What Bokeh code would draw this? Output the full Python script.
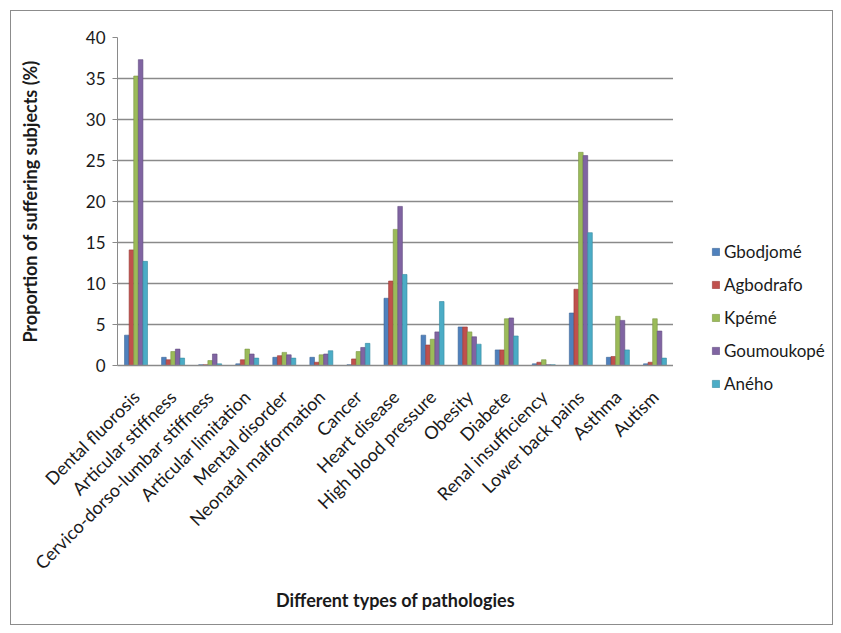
import math
from bokeh.plotting import figure
from bokeh.layouts import row, column
from bokeh.models import ColumnDataSource, FactorRange, Range1d, Legend, LegendItem, SingleIntervalTicker
from bokeh.transform import dodge
from bokeh.embed import file_html
from bokeh.resources import INLINE

# Proportion of suffering subjects (%) per pathology and locality
pathologies = [
    "Dental fluorosis", "Articular stiffness", "Cervico-dorso-lumbar stiffness",
    "Articular limitation", "Mental disorder", "Neonatal malformation", "Cancer",
    "Heart disease", "High blood pressure", "Obesity", "Diabete",
    "Renal insufficiency", "Lower back pains", "Asthma", "Autism",
]
localities = ["Gbodjomé", "Agbodrafo", "Kpémé", "Goumoukopé", "Aného"]

gbodjome   = [3.7, 1.0, 0.1, 0.2, 1.0, 1.0, 0.1, 8.2, 3.7, 4.7, 1.9, 0.2, 6.4, 1.0, 0.2]
agbodrafo  = [14.1, 0.7, 0.1, 0.7, 1.2, 0.4, 0.8, 10.3, 2.5, 4.7, 1.9, 0.4, 9.3, 1.1, 0.4]
kpeme      = [35.3, 1.7, 0.6, 2.0, 1.6, 1.3, 1.7, 16.6, 3.2, 4.1, 5.7, 0.7, 26.0, 6.0, 5.7]
goumoukope = [37.3, 2.0, 1.4, 1.4, 1.3, 1.4, 2.2, 19.4, 4.1, 3.5, 5.8, 0.1, 25.6, 5.5, 4.2]
aneho      = [12.7, 0.9, 0.2, 0.9, 0.9, 1.8, 2.7, 11.1, 7.8, 2.6, 3.6, 0.1, 16.2, 1.9, 0.9]

series = [gbodjome, agbodrafo, kpeme, goumoukope, aneho]
colors = ["#4F81BD", "#C0504D", "#9BBB59", "#8064A2", "#4BACC6"]
edges = ["#3A6496", "#9A3B38", "#7A9643", "#624B80", "#358A9F"]
keys = ["s0", "s1", "s2", "s3", "s4"]

data = {"cat": pathologies}
for k, s in zip(keys, series):
    data[k] = s
source = ColumnDataSource(data)

FONT = "Lato"
TXT = "#1a1a1a"
GRID = "#8a8a8a"

# main chart
p = figure(
    width=662, height=613,
    x_range=FactorRange(*pathologies, range_padding=0),
    y_range=Range1d(0, 40),
    output_backend="svg", toolbar_location=None,
    min_border_left=106, min_border_right=0,
    min_border_top=26, min_border_bottom=259,
)
p.outline_line_color = None
p.background_fill_color = "white"
p.border_fill_color = "white"

bar_w = 0.124
offsets = [-2 * bar_w, -bar_w, 0.0, bar_w, 2 * bar_w]
for k, off, c, e in zip(keys, offsets, colors, edges):
    p.vbar(x=dodge("cat", off, range=p.x_range), top=k, width=bar_w,
           source=source, fill_color=c, line_color=e, line_width=0.6)

# y axis
p.yaxis.ticker = SingleIntervalTicker(interval=5)
p.yaxis.minor_tick_line_color = None
p.yaxis.major_tick_out = 5
p.yaxis.major_tick_in = 0
p.yaxis.axis_line_color = GRID
p.yaxis.major_tick_line_color = GRID
p.yaxis.major_label_text_font = FONT
p.yaxis.major_label_text_font_size = "17px"
p.yaxis.major_label_text_color = TXT
p.yaxis.major_label_standoff = 7
p.yaxis.axis_label = "Proportion of suffering subjects (%)"
p.yaxis.axis_label_text_font = FONT
p.yaxis.axis_label_text_font_style = "bold"
p.yaxis.axis_label_text_font_size = "18px"
p.yaxis.axis_label_text_color = TXT
p.yaxis.axis_label_standoff = 42

# x axis
p.xaxis.major_label_orientation = math.pi / 4
p.xaxis.major_label_text_font = FONT
p.xaxis.major_label_text_font_size = "18px"
p.xaxis.major_label_text_color = TXT
p.xaxis.major_label_standoff = 22
p.xaxis.major_tick_line_color = None
p.xaxis.axis_line_color = GRID
p.xaxis.axis_line_width = 1.5
p.xaxis.axis_label = "Different types of pathologies"
p.xaxis.axis_label_text_font = FONT
p.xaxis.axis_label_text_font_style = "bold"
p.xaxis.axis_label_text_font_size = "18px"
p.xaxis.axis_label_text_color = TXT
p.xaxis.axis_label_standoff = 5

p.xgrid.grid_line_color = None
p.ygrid.grid_line_color = GRID
p.ygrid.grid_line_width = 1.5

# legend panel to the right of the plot area (swatch renderers stay hidden)
q = figure(
    width=159, height=613,
    x_range=FactorRange(*pathologies), y_range=Range1d(0, 40),
    output_backend="svg", toolbar_location=None,
    x_axis_location=None, y_axis_location=None,
    min_border=0,
)
q.outline_line_color = None
q.background_fill_alpha = 0
q.border_fill_alpha = 0
q.xgrid.visible = False
q.ygrid.visible = False
swatches = [
    q.vbar(x="cat", top=k, width=0.5, source=source, visible=False,
           fill_color=c, line_color=e, line_width=0.6)
    for k, c, e in zip(keys, colors, edges)
]

legend = Legend(
    items=[LegendItem(label=n, renderers=[r]) for n, r in zip(localities, swatches)],
    location=(38, 230),
    orientation="vertical",
    padding=0, margin=0, spacing=12,
    glyph_width=9, glyph_height=9,
    label_height=20, label_standoff=4,
    label_text_font=FONT, label_text_font_size="17px", label_text_color=TXT,
    border_line_color=None, background_fill_alpha=0,
    inactive_fill_alpha=0,
)
q.add_layout(legend, "center")

layout = row(p, column(q, margin=0), margin=(10, 0, 0, 10),
             styles={"border": "1px solid #8c8c8c", "background-color": "white"})

open("out.html", "w").write(file_html(layout, INLINE))
